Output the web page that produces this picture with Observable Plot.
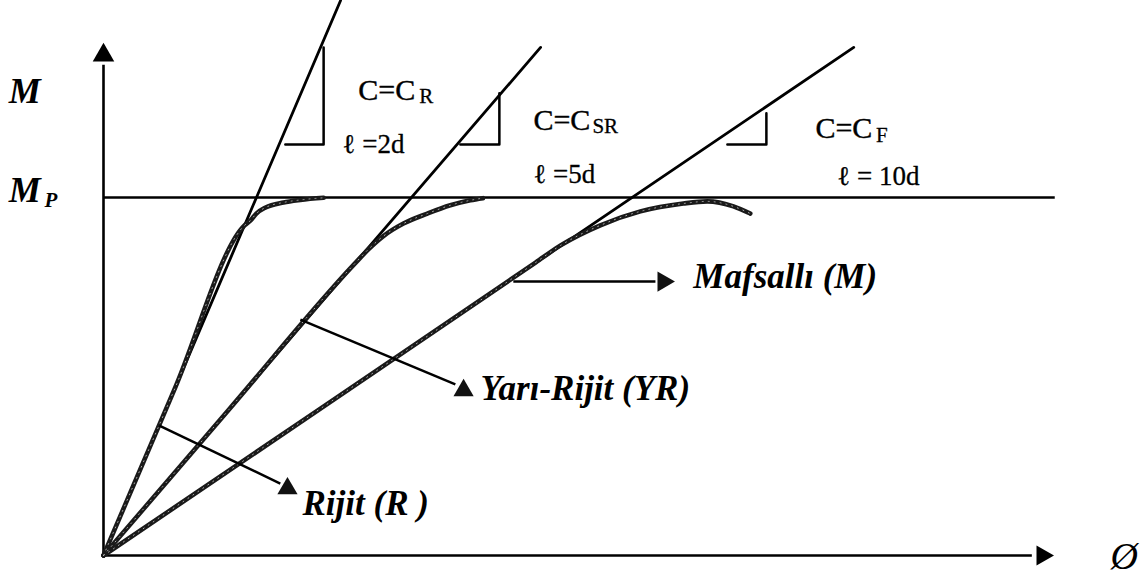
<!DOCTYPE html>
<html><head><meta charset="utf-8">
<script src="https://cdn.jsdelivr.net/npm/d3@7"></script>
<script src="https://cdn.jsdelivr.net/npm/@observablehq/plot@0.6"></script>
<style>body{margin:0;background:#fff}</style>
</head><body><div id="chart"></div>
<script>
// ---- data (rotation φ in arbitrary units, moment M as M/Mp) ----
const connLabels = ["Rijit (R )", "Yarı-Rijit (YR)", "Mafsallı (M)"];
const stiffSubs = ["R", "SR", "F"];
const lengthLabels = ["ℓ =2d", "ℓ =5d", "ℓ = 10d"];
const initialSlopes = [2.34, 1.162, 0.677];
const lineTopM = [1.55, 1.419, 1.419];
const plasticM = 1;
const mpLineEndPhi = 2.659;

const rigidPhi = [0, 0.2, 0.394, 0.411, 0.427, 0.453, 0.503, 0.550, 0.615];
const rigidM   = [0, 0.468, 0.922, 0.936, 0.955, 0.972, 0.986, 0.993, 0.999];
const semiPhi  = [0, 0.35, 0.70, 0.74, 0.782, 0.838, 0.905, 0.969, 1.025, 1.06];
const semiM    = [0, 0.407, 0.813, 0.855, 0.892, 0.927, 0.955, 0.978, 0.992, 0.998];
const pinPhi   = [0, 0.6, 1.207, 1.277, 1.388, 1.5, 1.620, 1.687, 1.760, 1.807];
const pinM     = [0, 0.406, 0.818, 0.866, 0.922, 0.961, 0.983, 0.989, 0.975, 0.955];

const triLeftPhi = [0.508, 0.997, 1.743];
const triVertPhi = [0.615, 1.106, 1.852];
const triTopM    = [1.419, 1.291, 1.235];
const triBaseM   = [1.148, 1.148, 1.148];

const cPhi = [0.712, 1.201, 1.989];
const cM   = [1.271, 1.187, 1.165];
const subPhi = [0.882, 1.366, 2.158];
const subM   = [1.263, 1.179, 1.154];
const lenPhi = [0.668, 1.201, 2.050];
const lenM   = [1.123, 1.039, 1.034];

const labelPhi = [0.556, 1.053, 1.648];
const labelM   = [0.112, 0.433, 0.746];
const leadFromPhi = [0.156, 0.550, 1.145];
const leadFromM   = [0.363, 0.659, 0.765];
const leadToPhi   = [0.494, 0.983, 1.542];
const leadToM     = [0.201, 0.478, 0.765];
const headPhi = [0.514, 1.006, 1.564];
const headM   = [0.187, 0.461, 0.765];
const headRot = [0, 0, 90];

const xAxisEnd = 2.595, xHead = 2.623;
const yAxisEnd = 1.369, yHead = 1.397;

// ---- build tables ----
const curves = [
  ...rigidPhi.map((p, i) => ({phi: p, m: rigidM[i], k: "R"})),
  ...semiPhi.map((p, i) => ({phi: p, m: semiM[i], k: "SR"})),
  ...pinPhi.map((p, i) => ({phi: p, m: pinM[i], k: "F"}))
];
const stiffLines = initialSlopes.flatMap((s, i) => [
  {phi: 0, m: 0, k: i}, {phi: lineTopM[i] / s, m: lineTopM[i], k: i}
]);
const tris = triLeftPhi.flatMap((l, i) => [
  {phi: l, m: triBaseM[i], k: i},
  {phi: triVertPhi[i], m: triBaseM[i], k: i},
  {phi: triVertPhi[i], m: triTopM[i], k: i}
]);
const idx = [0, 1, 2];
const serif = "'Liberation Serif', 'Times New Roman', serif";

const chart = Plot.plot({
  width: 1141, height: 580,
  marginLeft: 103, marginRight: 0, marginTop: 0, marginBottom: 25,
  x: {domain: [0, 2.9], axis: null},
  y: {domain: [0, 1.55], axis: null},
  style: {background: "#fff"},
  marks: [
    // axes
    Plot.ruleX([0], {y1: 0, y2: yAxisEnd, stroke: "#000", strokeWidth: 2.6}),
    Plot.ruleY([0], {x1: 0, x2: xAxisEnd, stroke: "#000", strokeWidth: 2.6}),
    Plot.dot([0], {x: 0, y: yHead, symbol: "triangle", r: 8, fill: "#000", stroke: "none"}),
    Plot.dot([0], {x: xHead, y: 0, symbol: "triangle", r: 7.5, fill: "#000", stroke: "none", rotate: 90}),
    // Mp line
    Plot.ruleY([plasticM], {x1: 0, x2: mpLineEndPhi, stroke: "#000", strokeWidth: 2.6}),
    // initial stiffness lines
    Plot.line(stiffLines, {x: "phi", y: "m", z: "k", stroke: "#000", strokeWidth: 2.8}),
    // slope triangles
    Plot.line(tris, {x: "phi", y: "m", z: "k", stroke: "#000", strokeWidth: 2.5}),
    // M-φ curves
    Plot.line(curves, {x: "phi", y: "m", z: "k", curve: "monotone-x", stroke: "#1a1a1a", strokeWidth: 4.6}),
    Plot.line(curves, {x: "phi", y: "m", z: "k", curve: "monotone-x", stroke: "#aaa", strokeWidth: 1, strokeDasharray: "1 5"}),
    // leaders
    Plot.link(idx, {x1: i => leadFromPhi[i], y1: i => leadFromM[i], x2: i => leadToPhi[i], y2: i => leadToM[i], stroke: "#000", strokeWidth: 2.5}),
    Plot.dot(idx, {x: i => headPhi[i], y: i => headM[i], rotate: i => headRot[i], symbol: "triangle", r: 7.5, fill: "#111", stroke: "none"}),
    // connection labels
    Plot.text(idx, {x: i => labelPhi[i], y: i => labelM[i], text: i => connLabels[i], textAnchor: "start", lineAnchor: "bottom",
      fontFamily: serif, fontSize: 35, fontWeight: "bold", fontStyle: "italic", fill: "#000"}),
    // stiffness labels
    Plot.text(idx, {x: i => cPhi[i], y: i => cM[i], text: () => "C=C", textAnchor: "start", lineAnchor: "bottom",
      fontFamily: serif, fontSize: 30, fill: "#000", stroke: "#000", strokeWidth: 0.4}),
    Plot.text(idx, {x: i => subPhi[i], y: i => subM[i], text: i => stiffSubs[i], textAnchor: "start", lineAnchor: "bottom",
      fontFamily: serif, fontSize: 21, fill: "#000", stroke: "#000", strokeWidth: 0.3}),
    Plot.text(idx, {x: i => lenPhi[i], y: i => lenM[i], text: i => lengthLabels[i], textAnchor: "start", lineAnchor: "bottom",
      fontFamily: serif, fontSize: 27, fill: "#000", stroke: "#000", strokeWidth: 0.3}),
    // axis labels
    Plot.text([0], {x: -0.265, y: 1.265, text: () => "M", textAnchor: "start", lineAnchor: "bottom",
      fontFamily: serif, fontSize: 36, fontWeight: "bold", fontStyle: "italic", fill: "#000"}),
    Plot.text([0], {x: -0.265, y: 0.986, text: () => "M", textAnchor: "start", lineAnchor: "bottom",
      fontFamily: serif, fontSize: 36, fontWeight: "bold", fontStyle: "italic", fill: "#000"}),
    Plot.text([0], {x: -0.165, y: 0.972, text: () => "P", textAnchor: "start", lineAnchor: "bottom",
      fontFamily: serif, fontSize: 21, fontWeight: "bold", fontStyle: "italic", fill: "#000"}),
    Plot.text([0], {x: 2.852, y: -0.003, text: () => "Ø", textAnchor: "middle", lineAnchor: "middle",
      fontFamily: serif, fontSize: 38, fontStyle: "italic", fill: "#000"})
  ]
});
document.getElementById("chart").appendChild(chart);
</script>
</body></html>
